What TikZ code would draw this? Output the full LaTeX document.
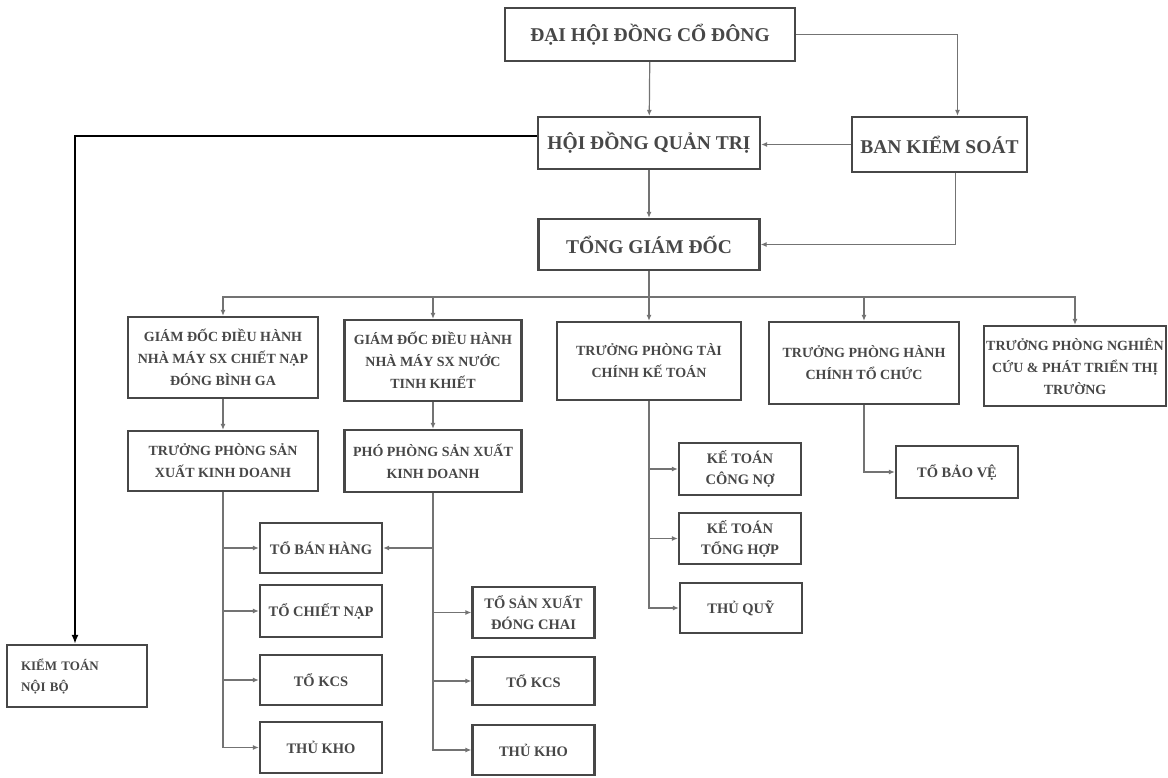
\documentclass[tikz,border=0pt]{standalone}
\usepackage{fontspec}
\setmainfont{Liberation Serif}
\usepackage{tikz}
\usetikzlibrary{arrows.meta}
\tikzset{
box/.style={draw=black!72,line width=2.2pt,fill=white,inner sep=2pt,align=center,text=black!72,font=\bfseries\fontsize{14}{22}\selectfont},
topbox/.style={box,font=\bfseries\fontsize{19.5}{22}\selectfont},
leafbox/.style={box,minimum width=122pt,minimum height=50pt,font=\bfseries\fontsize{14.5}{21}\selectfont},
link/.style={black!55,line width=1.2pt,-{Latex[length=6pt,width=5pt]}},
plainlink/.style={black!55,line width=1.2pt},
auditlink/.style={black,line width=1.8pt,-{Latex[length=9pt,width=7pt]}}
}
\begin{document}
\begin{tikzpicture}[x=1pt,y=-1pt]
\useasboundingbox (0,0) rectangle (1168,778);
\node[topbox,minimum width=290pt,minimum height=53pt] (dhcd) at (650,34.5) {ĐẠI HỘI ĐỒNG CỔ ĐÔNG};
\node[topbox,minimum width=222pt,minimum height=52pt] (hdqt) at (649,143) {HỘI ĐỒNG QUẢN TRỊ};
\node[topbox,minimum width=175pt,minimum height=55pt] (bks) at (939.5,144.5) {BAN KIỂM SOÁT};
\node[topbox,minimum width=221pt,minimum height=51pt] (tgd) at (649,244.5) {TỔNG GIÁM ĐỐC};
\node[box,minimum width=190pt,minimum height=81pt] (gd1) at (223,357.5) {GIÁM ĐỐC ĐIỀU HÀNH\\NHÀ MÁY SX CHIẾT NẠP\\ĐÓNG BÌNH GA};
\node[box,minimum width=177pt,minimum height=81pt] (gd2) at (433,360.5) {GIÁM ĐỐC ĐIỀU HÀNH\\NHÀ MÁY SX NƯỚC\\TINH KHIẾT};
\node[box,minimum width=184pt,minimum height=78pt] (tckt) at (649,361) {TRƯỞNG PHÒNG TÀI\\CHÍNH KẾ TOÁN};
\node[box,minimum width=190pt,minimum height=82pt] (hctc) at (864,363) {TRƯỞNG PHÒNG HÀNH\\CHÍNH TỔ CHỨC};
\node[box,minimum width=182pt,minimum height=80pt,inner sep=0pt] (ncpt) at (1075,366) {TRƯỞNG PHÒNG NGHIÊN\\CỨU \& PHÁT TRIỂN THỊ\\TRƯỜNG};
\node[box,minimum width=190pt,minimum height=60pt] (tpsx) at (223,461) {TRƯỞNG PHÒNG SẢN\\XUẤT KINH DOANH};
\node[box,minimum width=177pt,minimum height=62pt] (ppsx) at (433,461) {PHÓ PHÒNG SẢN XUẤT\\KINH DOANH};
\node[leafbox,minimum height=52pt] (ktcn) at (740,469) {KẾ TOÁN\\CÔNG NỢ};
\node[leafbox,minimum height=51pt] (ktth) at (740,538.5) {KẾ TOÁN\\TỔNG HỢP};
\node[leafbox] (tquy) at (741,608) {THỦ QUỸ};
\node[leafbox,minimum height=52pt] (tbv) at (957,472) {TỔ BẢO VỆ};
\node[leafbox] (tbh) at (321,548) {TỔ BÁN HÀNG};
\node[leafbox,minimum height=52pt] (tcn) at (321,611) {TỔ CHIẾT NẠP};
\node[leafbox] (kcsa) at (321,680) {TỔ KCS};
\node[leafbox,minimum height=51pt] (tkhoa) at (321,747.5) {THỦ KHO};
\node[leafbox,minimum height=51pt] (tdc) at (533.5,612.5) {TỔ SẢN XUẤT\\ĐÓNG CHAI};
\node[leafbox,minimum height=48pt] (kcsb) at (533.5,681) {TỔ KCS};
\node[leafbox] (tkhob) at (533.5,750) {THỦ KHO};
\node[box,minimum width=140pt,minimum height=62pt,text width=112pt,align=left,font=\bfseries\fontsize{13}{21}\selectfont] (ktnb) at (77,676) {KIỂM TOÁN\\NỘI BỘ};
\coordinate (bus) at (649,297);
\draw[link] (dhcd) -- (hdqt);
\draw[link] (dhcd.east) -| ([xshift=18pt]bks.north);
\draw[link] (bks.west) -- (bks.west -| hdqt.east);
\draw[link] ([xshift=16pt]bks.south) |- (tgd.east);
\draw[link] (hdqt) -- (tgd);
\draw[auditlink] ([yshift=7pt]hdqt.west) -| ([xshift=-2pt]ktnb.north);
\draw[plainlink] (tgd) -- (bus);
\foreach \n in {gd1,gd2,tckt,hctc,ncpt}
  \draw[link] (bus) -| (\n.north);
\draw[link] (gd1) -- (tpsx);
\draw[link] (gd2.south -| ppsx.north) -- (ppsx.north);
\foreach \n in {tbh,tcn,kcsa,tkhoa}
  \draw[link] (tpsx.south) |- (\n.west);
\draw[link] (ppsx.south) |- (tbh.east);
\foreach \n in {tdc,kcsb,tkhob}
  \draw[link] (ppsx.south) |- (\n.west);
\foreach \n in {ktcn,ktth,tquy}
  \draw[link] (tckt.south) |- (\n.west);
\draw[link] (hctc.south) |- (tbv.west);
\end{tikzpicture}
\end{document}
